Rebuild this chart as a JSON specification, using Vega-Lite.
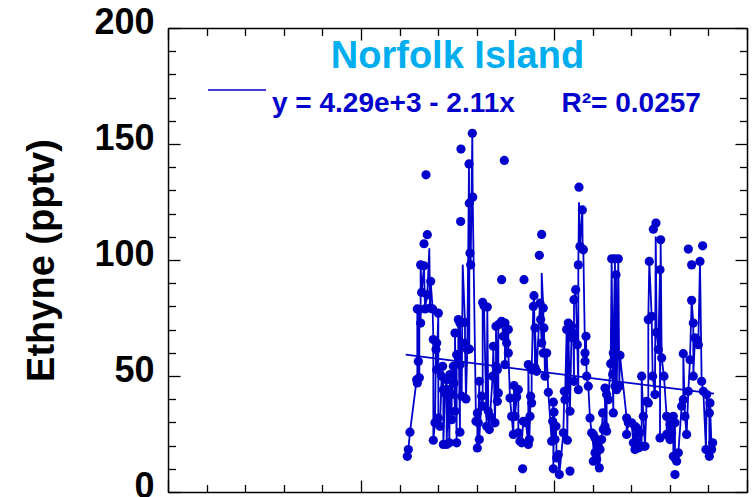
{
  "$schema": "https://vega.github.io/schema/vega-lite/v6.json",
  "width": 579,
  "height": 464,
  "autosize": "none",
  "padding": {"left": 168, "top": 28, "right": 7, "bottom": 5},
  "background": "white",
  "title": {"text": "Norfolk Island", "color": "#00AEEF", "font": "Liberation Sans", "fontSize": 38, "fontWeight": "bold", "anchor": "middle", "frame": "group", "offset": -102, "baseline": "alphabetic"},
  "config": {"view": {"stroke": null}},
  "datasets": {
    "samples": [
      {"year":2006.200,"ethyne":15.4},{"year":2006.226,"ethyne":18.3},{"year":2006.269,"ethyne":25.8},{"year":2006.459,"ethyne":47.0},{"year":2006.511,"ethyne":49.2},{"year":2006.442,"ethyne":48.4},{"year":2006.485,"ethyne":56.3},{"year":2006.545,"ethyne":72.8},{"year":2006.511,"ethyne":78.6},{"year":2006.459,"ethyne":78.9},
      {"year":2006.571,"ethyne":86.0},{"year":2006.545,"ethyne":97.9},{"year":2006.632,"ethyne":97.5},{"year":2006.632,"ethyne":107.0},{"year":2006.718,"ethyne":110.9},{"year":2006.684,"ethyne":136.7},{"year":2006.658,"ethyne":78.9},{"year":2006.787,"ethyne":79.3},{"year":2006.856,"ethyne":78.9},{"year":2007.003,"ethyne":77.1},
      {"year":2006.718,"ethyne":85.0},{"year":2006.805,"ethyne":90.8},{"year":2006.874,"ethyne":65.7},{"year":2006.960,"ethyne":64.2},{"year":2006.943,"ethyne":61.4},{"year":2006.960,"ethyne":52.7},{"year":2006.917,"ethyne":29.8},{"year":2007.003,"ethyne":31.9},{"year":2006.874,"ethyne":22.3},{"year":2007.046,"ethyne":28.3},
      {"year":2007.115,"ethyne":54.2},{"year":2007.089,"ethyne":49.9},{"year":2007.133,"ethyne":44.1},{"year":2007.176,"ethyne":42.7},{"year":2007.219,"ethyne":48.4},{"year":2007.262,"ethyne":44.1},{"year":2007.133,"ethyne":20.5},{"year":2007.219,"ethyne":20.5},{"year":2007.288,"ethyne":21.2},{"year":2007.349,"ethyne":31.2},
      {"year":2007.349,"ethyne":42.0},{"year":2007.305,"ethyne":50.6},{"year":2007.392,"ethyne":54.2},{"year":2007.435,"ethyne":34.8},{"year":2007.478,"ethyne":21.2},{"year":2007.564,"ethyne":25.8},{"year":2007.409,"ethyne":47.0},{"year":2007.478,"ethyne":59.2},{"year":2007.521,"ethyne":55.6},{"year":2007.564,"ethyne":54.9},
      {"year":2007.435,"ethyne":68.5},{"year":2007.521,"ethyne":74.3},{"year":2007.564,"ethyne":72.8},{"year":2007.694,"ethyne":73.1},{"year":2007.608,"ethyne":41.3},{"year":2007.720,"ethyne":40.1},{"year":2007.582,"ethyne":116.6},{"year":2007.590,"ethyne":147.8},{"year":2007.694,"ethyne":64.2},{"year":2007.754,"ethyne":61.4},
      {"year":2007.806,"ethyne":61.6},{"year":2007.823,"ethyne":103.0},{"year":2007.841,"ethyne":97.9},{"year":2007.806,"ethyne":124.5},{"year":2007.798,"ethyne":141.4},{"year":2007.893,"ethyne":127.1},{"year":2007.884,"ethyne":154.6},{"year":2008.065,"ethyne":47.7},{"year":2008.126,"ethyne":41.3},{"year":2008.152,"ethyne":37.0},
      {"year":2008.014,"ethyne":34.1},{"year":2007.979,"ethyne":30.5},{"year":2008.039,"ethyne":29.8},{"year":2008.065,"ethyne":22.6},{"year":2008.014,"ethyne":19.0},{"year":2008.298,"ethyne":34.8},{"year":2008.342,"ethyne":32.6},{"year":2008.255,"ethyne":28.3},{"year":2008.324,"ethyne":26.9},{"year":2008.152,"ethyne":81.7},
      {"year":2008.186,"ethyne":80.3},{"year":2008.272,"ethyne":79.7},{"year":2008.428,"ethyne":62.8},{"year":2008.411,"ethyne":49.9},{"year":2008.497,"ethyne":54.2},{"year":2008.532,"ethyne":52.7},{"year":2008.471,"ethyne":29.8},{"year":2008.558,"ethyne":42.7},{"year":2008.532,"ethyne":39.1},{"year":2008.497,"ethyne":71.4},
      {"year":2008.558,"ethyne":72.1},{"year":2008.644,"ethyne":73.6},{"year":2008.730,"ethyne":72.8},{"year":2008.687,"ethyne":67.1},{"year":2008.773,"ethyne":64.2},{"year":2008.817,"ethyne":70.0},{"year":2008.817,"ethyne":59.9},{"year":2008.730,"ethyne":54.9},{"year":2008.644,"ethyne":91.5},{"year":2008.713,"ethyne":142.9},
      {"year":2008.860,"ethyne":40.5},{"year":2008.963,"ethyne":45.9},{"year":2009.033,"ethyne":41.0},{"year":2008.989,"ethyne":32.6},{"year":2009.076,"ethyne":44.1},{"year":2008.903,"ethyne":32.6},{"year":2008.946,"ethyne":24.8},{"year":2009.076,"ethyne":25.5},{"year":2009.119,"ethyne":21.9},{"year":2009.205,"ethyne":30.5},
      {"year":2009.274,"ethyne":29.8},{"year":2009.162,"ethyne":21.2},{"year":2009.335,"ethyne":20.5},{"year":2009.361,"ethyne":22.6},{"year":2009.378,"ethyne":32.6},{"year":2009.421,"ethyne":38.4},{"year":2009.395,"ethyne":41.3},{"year":2009.223,"ethyne":91.5},{"year":2009.188,"ethyne":10.0},{"year":2009.335,"ethyne":54.9},
      {"year":2009.421,"ethyne":52.7},{"year":2009.508,"ethyne":53.5},{"year":2009.551,"ethyne":52.0},{"year":2009.464,"ethyne":80.0},{"year":2009.482,"ethyne":84.6},{"year":2009.620,"ethyne":102.0},{"year":2009.680,"ethyne":111.0},{"year":2009.637,"ethyne":81.4},{"year":2009.723,"ethyne":79.3},{"year":2009.654,"ethyne":74.3},
      {"year":2009.508,"ethyne":70.7},{"year":2009.740,"ethyne":70.7},{"year":2009.680,"ethyne":64.2},{"year":2009.723,"ethyne":59.9},{"year":2009.810,"ethyne":59.9},{"year":2009.767,"ethyne":49.9},{"year":2009.853,"ethyne":43.0},{"year":2009.983,"ethyne":38.7},{"year":2010.000,"ethyne":34.4},{"year":2009.965,"ethyne":30.5},
      {"year":2010.051,"ethyne":28.3},{"year":2010.026,"ethyne":22.6},{"year":2009.939,"ethyne":21.9},{"year":2010.069,"ethyne":14.7},{"year":2009.983,"ethyne":10.0},{"year":2010.138,"ethyne":7.5},{"year":2010.112,"ethyne":16.1},{"year":2010.242,"ethyne":25.5},{"year":2010.285,"ethyne":39.8},{"year":2010.268,"ethyne":43.4},
      {"year":2010.328,"ethyne":70.0},{"year":2010.371,"ethyne":72.8},{"year":2010.414,"ethyne":34.8},{"year":2010.414,"ethyne":9.0},{"year":2010.345,"ethyne":22.3},{"year":2010.457,"ethyne":71.4},{"year":2010.500,"ethyne":68.5},{"year":2010.483,"ethyne":66.4},{"year":2010.604,"ethyne":63.5},{"year":2010.518,"ethyne":47.7},
      {"year":2010.630,"ethyne":44.1},{"year":2010.518,"ethyne":82.9},{"year":2010.561,"ethyne":87.2},{"year":2010.630,"ethyne":97.9},{"year":2010.673,"ethyne":105.8},{"year":2010.742,"ethyne":104.7},{"year":2010.647,"ethyne":131.4},{"year":2010.734,"ethyne":121.6},{"year":2010.760,"ethyne":104.4},{"year":2010.829,"ethyne":67.1},
      {"year":2010.803,"ethyne":59.9},{"year":2010.803,"ethyne":56.3},{"year":2010.846,"ethyne":49.9},{"year":2010.889,"ethyne":45.6},{"year":2010.932,"ethyne":31.9},{"year":2010.975,"ethyne":25.5},{"year":2011.019,"ethyne":24.8},{"year":2011.062,"ethyne":23.3},{"year":2011.105,"ethyne":21.2},{"year":2011.148,"ethyne":19.7},
      {"year":2011.191,"ethyne":18.3},{"year":2011.062,"ethyne":16.9},{"year":2011.105,"ethyne":14.0},{"year":2011.174,"ethyne":10.4},{"year":2011.019,"ethyne":13.3},{"year":2011.234,"ethyne":22.6},{"year":2011.278,"ethyne":26.9},{"year":2011.321,"ethyne":28.3},{"year":2011.364,"ethyne":26.2},{"year":2011.260,"ethyne":34.1},
      {"year":2011.321,"ethyne":44.8},{"year":2011.364,"ethyne":42.0},{"year":2011.407,"ethyne":39.8},{"year":2011.468,"ethyne":55.3},{"year":2011.519,"ethyne":50.6},{"year":2011.537,"ethyne":34.1},{"year":2011.537,"ethyne":59.9},{"year":2011.640,"ethyne":59.2},{"year":2011.709,"ethyne":58.9},{"year":2011.494,"ethyne":100.5},
      {"year":2011.580,"ethyne":100.5},{"year":2011.666,"ethyne":100.5},{"year":2011.606,"ethyne":93.6},{"year":2011.580,"ethyne":45.6},{"year":2011.623,"ethyne":44.1},{"year":2011.692,"ethyne":45.6},{"year":2011.882,"ethyne":31.9},{"year":2011.925,"ethyne":29.8},{"year":2012.012,"ethyne":29.8},{"year":2012.098,"ethyne":28.3},
      {"year":2012.141,"ethyne":27.6},{"year":2012.228,"ethyne":25.5},{"year":2011.882,"ethyne":24.8},{"year":2012.055,"ethyne":21.2},{"year":2012.098,"ethyne":18.3},{"year":2012.184,"ethyne":19.0},{"year":2012.271,"ethyne":19.7},{"year":2012.357,"ethyne":19.7},{"year":2012.271,"ethyne":49.9},{"year":2012.314,"ethyne":32.6},
      {"year":2012.400,"ethyne":39.1},{"year":2012.443,"ethyne":38.4},{"year":2012.469,"ethyne":99.4},{"year":2012.443,"ethyne":74.3},{"year":2012.530,"ethyne":75.7},{"year":2012.659,"ethyne":68.8},{"year":2012.703,"ethyne":61.4},{"year":2012.789,"ethyne":57.8},{"year":2012.746,"ethyne":95.8},{"year":2012.763,"ethyne":108.7},
      {"year":2012.573,"ethyne":113.3},{"year":2012.642,"ethyne":115.9},{"year":2012.556,"ethyne":49.9},{"year":2012.616,"ethyne":42.0},{"year":2012.746,"ethyne":23.3},{"year":2012.849,"ethyne":49.9},{"year":2012.918,"ethyne":32.6},{"year":2013.005,"ethyne":29.1},{"year":2013.048,"ethyne":25.5},{"year":2013.091,"ethyne":32.6},
      {"year":2013.134,"ethyne":29.8},{"year":2012.918,"ethyne":24.8},{"year":2013.005,"ethyne":22.6},{"year":2013.091,"ethyne":15.4},{"year":2013.134,"ethyne":14.7},{"year":2013.221,"ethyne":16.9},{"year":2013.177,"ethyne":13.3},{"year":2013.134,"ethyne":7.5},{"year":2013.307,"ethyne":37.0},{"year":2013.350,"ethyne":39.8},
      {"year":2013.393,"ethyne":32.6},{"year":2013.436,"ethyne":24.8},{"year":2013.480,"ethyne":43.4},{"year":2013.480,"ethyne":104.7},{"year":2013.566,"ethyne":97.9},{"year":2013.566,"ethyne":82.6},{"year":2013.609,"ethyne":72.8},{"year":2013.652,"ethyne":66.4},{"year":2013.696,"ethyne":65.7},{"year":2013.739,"ethyne":63.5},
      {"year":2013.350,"ethyne":59.6},{"year":2013.523,"ethyne":57.0},{"year":2013.609,"ethyne":49.9},{"year":2013.782,"ethyne":99.4},{"year":2013.851,"ethyne":106.1},{"year":2013.825,"ethyne":47.7},{"year":2013.868,"ethyne":43.4},{"year":2013.955,"ethyne":42.0},{"year":2014.041,"ethyne":38.4},{"year":2014.024,"ethyne":34.1},
      {"year":2013.937,"ethyne":18.3},{"year":2014.024,"ethyne":15.4},{"year":2014.084,"ethyne":18.3},{"year":2014.110,"ethyne":21.2}
    ],
    "series": [
      {"year":2006.200,"ethyne":15.4},{"year":2006.226,"ethyne":18.3},{"year":2006.269,"ethyne":25.8},{"year":2006.459,"ethyne":47.0},{"year":2006.511,"ethyne":49.2},{"year":2006.442,"ethyne":48.4},{"year":2006.485,"ethyne":56.3},{"year":2006.545,"ethyne":72.8},{"year":2006.511,"ethyne":78.6},{"year":2006.459,"ethyne":78.9},
      {"year":2006.571,"ethyne":86.0},{"year":2006.545,"ethyne":97.9},{"year":2006.632,"ethyne":97.5},{"year":2006.770,"ethyne":105.1},{"year":2006.658,"ethyne":78.9},{"year":2006.787,"ethyne":79.3},{"year":2006.856,"ethyne":78.9},{"year":2007.003,"ethyne":77.1},
      {"year":2006.718,"ethyne":85.0},{"year":2006.805,"ethyne":90.8},{"year":2006.874,"ethyne":65.7},{"year":2006.960,"ethyne":64.2},{"year":2006.943,"ethyne":61.4},{"year":2006.960,"ethyne":52.7},{"year":2006.917,"ethyne":29.8},{"year":2007.003,"ethyne":31.9},{"year":2006.874,"ethyne":22.3},{"year":2007.046,"ethyne":28.3},
      {"year":2007.115,"ethyne":54.2},{"year":2007.089,"ethyne":49.9},{"year":2007.133,"ethyne":44.1},{"year":2007.176,"ethyne":42.7},{"year":2007.219,"ethyne":48.4},{"year":2007.262,"ethyne":44.1},{"year":2007.133,"ethyne":20.5},{"year":2007.219,"ethyne":20.5},{"year":2007.288,"ethyne":21.2},{"year":2007.349,"ethyne":31.2},
      {"year":2007.349,"ethyne":42.0},{"year":2007.305,"ethyne":50.6},{"year":2007.392,"ethyne":54.2},{"year":2007.435,"ethyne":34.8},{"year":2007.478,"ethyne":21.2},{"year":2007.564,"ethyne":25.8},{"year":2007.409,"ethyne":47.0},{"year":2007.478,"ethyne":59.2},{"year":2007.521,"ethyne":55.6},{"year":2007.564,"ethyne":54.9},
      {"year":2007.435,"ethyne":68.5},{"year":2007.521,"ethyne":74.3},{"year":2007.564,"ethyne":72.8},{"year":2007.694,"ethyne":73.1},{"year":2007.608,"ethyne":41.3},{"year":2007.635,"ethyne":98.0},{"year":2007.720,"ethyne":40.1},{"year":2007.694,"ethyne":64.2},{"year":2007.754,"ethyne":61.4},
      {"year":2007.806,"ethyne":61.6},{"year":2007.823,"ethyne":103.0},{"year":2007.841,"ethyne":97.9},{"year":2007.806,"ethyne":124.5},{"year":2007.798,"ethyne":141.4},{"year":2007.893,"ethyne":127.1},{"year":2007.884,"ethyne":154.6},{"year":2008.065,"ethyne":47.7},{"year":2008.126,"ethyne":41.3},{"year":2008.152,"ethyne":37.0},
      {"year":2008.014,"ethyne":34.1},{"year":2007.979,"ethyne":30.5},{"year":2008.039,"ethyne":29.8},{"year":2008.065,"ethyne":22.6},{"year":2008.014,"ethyne":19.0},{"year":2008.298,"ethyne":34.8},{"year":2008.342,"ethyne":32.6},{"year":2008.255,"ethyne":28.3},{"year":2008.324,"ethyne":26.9},{"year":2008.152,"ethyne":81.7},
      {"year":2008.186,"ethyne":80.3},{"year":2008.272,"ethyne":79.7},{"year":2008.428,"ethyne":62.8},{"year":2008.411,"ethyne":49.9},{"year":2008.497,"ethyne":54.2},{"year":2008.532,"ethyne":52.7},{"year":2008.471,"ethyne":29.8},{"year":2008.558,"ethyne":42.7},{"year":2008.532,"ethyne":39.1},{"year":2008.497,"ethyne":71.4},
      {"year":2008.558,"ethyne":72.1},{"year":2008.644,"ethyne":73.6},{"year":2008.730,"ethyne":72.8},{"year":2008.687,"ethyne":67.1},{"year":2008.773,"ethyne":64.2},{"year":2008.817,"ethyne":70.0},{"year":2008.817,"ethyne":59.9},{"year":2008.730,"ethyne":54.9},
      {"year":2008.860,"ethyne":40.5},{"year":2008.963,"ethyne":45.9},{"year":2009.033,"ethyne":41.0},{"year":2008.989,"ethyne":32.6},{"year":2009.076,"ethyne":44.1},{"year":2008.903,"ethyne":32.6},{"year":2008.946,"ethyne":24.8},{"year":2009.076,"ethyne":25.5},{"year":2009.119,"ethyne":21.9},{"year":2009.205,"ethyne":30.5},
      {"year":2009.274,"ethyne":29.8},{"year":2009.162,"ethyne":21.2},{"year":2009.335,"ethyne":20.5},{"year":2009.361,"ethyne":22.6},{"year":2009.378,"ethyne":32.6},{"year":2009.421,"ethyne":38.4},{"year":2009.395,"ethyne":41.3},{"year":2009.335,"ethyne":54.9},
      {"year":2009.421,"ethyne":52.7},{"year":2009.508,"ethyne":53.5},{"year":2009.551,"ethyne":52.0},{"year":2009.464,"ethyne":80.0},{"year":2009.482,"ethyne":84.6},{"year":2009.681,"ethyne":94.4},{"year":2009.637,"ethyne":81.4},{"year":2009.723,"ethyne":79.3},{"year":2009.654,"ethyne":74.3},
      {"year":2009.508,"ethyne":70.7},{"year":2009.740,"ethyne":70.7},{"year":2009.680,"ethyne":64.2},{"year":2009.723,"ethyne":59.9},{"year":2009.810,"ethyne":59.9},{"year":2009.767,"ethyne":49.9},{"year":2009.853,"ethyne":43.0},{"year":2009.983,"ethyne":38.7},{"year":2010.000,"ethyne":34.4},{"year":2009.965,"ethyne":30.5},
      {"year":2010.051,"ethyne":28.3},{"year":2010.026,"ethyne":22.6},{"year":2009.939,"ethyne":21.9},{"year":2010.069,"ethyne":14.7},{"year":2009.983,"ethyne":10.0},{"year":2010.138,"ethyne":7.5},{"year":2010.112,"ethyne":16.1},{"year":2010.242,"ethyne":25.5},{"year":2010.285,"ethyne":39.8},{"year":2010.268,"ethyne":43.4},
      {"year":2010.328,"ethyne":70.0},{"year":2010.371,"ethyne":72.8},{"year":2010.414,"ethyne":34.8},{"year":2010.345,"ethyne":22.3},{"year":2010.457,"ethyne":71.4},{"year":2010.500,"ethyne":68.5},{"year":2010.483,"ethyne":66.4},{"year":2010.604,"ethyne":63.5},{"year":2010.518,"ethyne":47.7},
      {"year":2010.630,"ethyne":44.1},{"year":2010.518,"ethyne":82.9},{"year":2010.561,"ethyne":87.2},{"year":2010.630,"ethyne":97.9},{"year":2010.648,"ethyne":124.9},{"year":2010.673,"ethyne":105.8},{"year":2010.742,"ethyne":104.7},{"year":2010.734,"ethyne":121.6},{"year":2010.760,"ethyne":104.4},{"year":2010.829,"ethyne":67.1},
      {"year":2010.803,"ethyne":59.9},{"year":2010.803,"ethyne":56.3},{"year":2010.846,"ethyne":49.9},{"year":2010.889,"ethyne":45.6},{"year":2010.932,"ethyne":31.9},{"year":2010.975,"ethyne":25.5},{"year":2011.019,"ethyne":24.8},{"year":2011.062,"ethyne":23.3},{"year":2011.105,"ethyne":21.2},{"year":2011.148,"ethyne":19.7},
      {"year":2011.191,"ethyne":18.3},{"year":2011.062,"ethyne":16.9},{"year":2011.105,"ethyne":14.0},{"year":2011.174,"ethyne":10.4},{"year":2011.019,"ethyne":13.3},{"year":2011.234,"ethyne":22.6},{"year":2011.278,"ethyne":26.9},{"year":2011.321,"ethyne":28.3},{"year":2011.364,"ethyne":26.2},{"year":2011.260,"ethyne":34.1},
      {"year":2011.321,"ethyne":44.8},{"year":2011.364,"ethyne":42.0},{"year":2011.407,"ethyne":39.8},{"year":2011.468,"ethyne":55.3},{"year":2011.519,"ethyne":50.6},{"year":2011.537,"ethyne":34.1},{"year":2011.537,"ethyne":59.9},{"year":2011.640,"ethyne":59.2},{"year":2011.709,"ethyne":58.9},{"year":2011.494,"ethyne":100.5},
      {"year":2011.580,"ethyne":100.5},{"year":2011.666,"ethyne":100.5},{"year":2011.606,"ethyne":93.6},{"year":2011.580,"ethyne":45.6},{"year":2011.623,"ethyne":44.1},{"year":2011.692,"ethyne":45.6},{"year":2011.882,"ethyne":31.9},{"year":2011.925,"ethyne":29.8},{"year":2012.012,"ethyne":29.8},{"year":2012.098,"ethyne":28.3},
      {"year":2012.141,"ethyne":27.6},{"year":2012.228,"ethyne":25.5},{"year":2011.882,"ethyne":24.8},{"year":2012.055,"ethyne":21.2},{"year":2012.098,"ethyne":18.3},{"year":2012.184,"ethyne":19.0},{"year":2012.271,"ethyne":19.7},{"year":2012.357,"ethyne":19.7},{"year":2012.271,"ethyne":49.9},{"year":2012.314,"ethyne":32.6},
      {"year":2012.400,"ethyne":39.1},{"year":2012.443,"ethyne":38.4},{"year":2012.469,"ethyne":99.4},{"year":2012.443,"ethyne":74.3},{"year":2012.530,"ethyne":75.7},{"year":2012.659,"ethyne":68.8},{"year":2012.703,"ethyne":61.4},{"year":2012.789,"ethyne":57.8},{"year":2012.746,"ethyne":95.8},{"year":2012.763,"ethyne":108.7},
      {"year":2012.635,"ethyne":110.1},{"year":2012.556,"ethyne":49.9},{"year":2012.616,"ethyne":42.0},{"year":2012.746,"ethyne":23.3},{"year":2012.849,"ethyne":49.9},{"year":2012.918,"ethyne":32.6},{"year":2013.005,"ethyne":29.1},{"year":2013.048,"ethyne":25.5},{"year":2013.091,"ethyne":32.6},
      {"year":2013.134,"ethyne":29.8},{"year":2012.918,"ethyne":24.8},{"year":2013.005,"ethyne":22.6},{"year":2013.091,"ethyne":15.4},{"year":2013.134,"ethyne":14.7},{"year":2013.221,"ethyne":16.9},{"year":2013.177,"ethyne":13.3},{"year":2013.307,"ethyne":37.0},{"year":2013.350,"ethyne":39.8},
      {"year":2013.393,"ethyne":32.6},{"year":2013.436,"ethyne":24.8},{"year":2013.480,"ethyne":43.4},{"year":2013.566,"ethyne":82.6},{"year":2013.609,"ethyne":72.8},{"year":2013.652,"ethyne":66.4},{"year":2013.696,"ethyne":65.7},{"year":2013.739,"ethyne":63.5},
      {"year":2013.350,"ethyne":59.6},{"year":2013.523,"ethyne":57.0},{"year":2013.609,"ethyne":49.9},{"year":2013.782,"ethyne":99.4},{"year":2013.825,"ethyne":47.7},{"year":2013.868,"ethyne":43.4},{"year":2013.955,"ethyne":42.0},{"year":2014.041,"ethyne":38.4},{"year":2014.024,"ethyne":34.1},
      {"year":2013.937,"ethyne":18.3},{"year":2014.024,"ethyne":15.4},{"year":2014.084,"ethyne":18.3},{"year":2014.110,"ethyne":21.2}
    ],
    "fit": [
      {"year":2006.158,"ethyne":59.2,"label":"y = 4.29e+3 - 2.11x\u00a0\u00a0\u00a0\u00a0\u00a0\u00a0R²= 0.0257"},
      {"year":2014.145,"ethyne":42.4,"label":"y = 4.29e+3 - 2.11x\u00a0\u00a0\u00a0\u00a0\u00a0\u00a0R²= 0.0257"}
    ]
  },
  "layer": [
    {
      "data": {"name": "samples"},
      "mark": {"type": "circle", "color": "#0000CC", "size": 85, "opacity": 1},
      "encoding": {
        "x": {"field": "year", "type": "quantitative", "scale": {"domain": [2000, 2015], "nice": false, "zero": false},
          "axis": {"orient": "bottom", "values": [2000,2001,2002,2003,2004,2005,2006,2007,2008,2009,2010,2011,2012,2013,2014,2015], "labels": false, "title": null, "grid": false, "domainColor": "black", "domainWidth": 1.5, "tickColor": "black", "tickWidth": 1.3, "tickSize": {"condition": {"test": "datum.value % 5 === 0", "value": -12}, "value": -7.5}}},
        "y": {"field": "ethyne", "type": "quantitative", "scale": {"domain": [0, 200], "nice": false, "zero": true},
          "axis": {"orient": "left", "values": [0,10,20,30,40,50,60,70,80,90,100,110,120,130,140,150,160,170,180,190,200], "labelExpr": "datum.value % 50 === 0 ? datum.label : ''", "labelOverlap": false, "labelBound": false, "labelFlush": false, "labelFont": "Liberation Sans", "labelFontSize": 36, "labelFontWeight": "bold", "labelColor": "black", "labelPadding": 26, "labelOffset": -6, "grid": false, "domainColor": "black", "domainWidth": 1.5, "tickColor": "black", "tickWidth": 1.3, "tickSize": {"condition": {"test": "datum.value % 50 === 0", "value": -12}, "value": -7.5},
            "title": "Ethyne (pptv)", "titleFont": "Liberation Sans", "titleFontSize": 38, "titleFontWeight": "bold", "titleColor": "black", "titleAngle": -90, "titleX": -115, "titleY": 232, "titleAlign": "center", "titleBaseline": "alphabetic"}}
      }
    },
    {
      "data": {"name": "series"},
      "mark": {"type": "line", "color": "#0000CC", "strokeWidth": 1.8},
      "encoding": {
        "x": {"field": "year", "type": "quantitative",
          "axis": {"orient": "top", "values": [2000,2001,2002,2003,2004,2005,2006,2007,2008,2009,2010,2011,2012,2013,2014,2015], "labels": false, "title": null, "grid": false, "domainColor": "black", "domainWidth": 1.5, "tickColor": "black", "tickWidth": 1.3, "tickSize": {"condition": {"test": "datum.value % 5 === 0", "value": -12}, "value": -7.5}}},
        "y": {"field": "ethyne", "type": "quantitative",
          "axis": {"orient": "right", "values": [0,10,20,30,40,50,60,70,80,90,100,110,120,130,140,150,160,170,180,190,200], "labels": false, "title": null, "grid": false, "domainColor": "black", "domainWidth": 1.5, "tickColor": "black", "tickWidth": 1.3, "tickSize": {"condition": {"test": "datum.value % 50 === 0", "value": -12}, "value": -7.5}}}
      }
    },
    {
      "data": {"name": "fit"},
      "mark": {"type": "line", "strokeWidth": 1.6},
      "encoding": {
        "x": {"field": "year", "type": "quantitative", "axis": null},
        "y": {"field": "ethyne", "type": "quantitative", "axis": null},
        "stroke": {"field": "label", "type": "nominal", "scale": {"range": ["#0000CC"]},
          "legend": {"orient": "none", "legendX": 39, "legendY": 32, "title": null, "padding": 0, "symbolType": "stroke", "symbolSize": 3364, "symbolStrokeWidth": 1.5, "symbolStrokeColor": "#0000CC", "labelFont": "Liberation Sans", "labelFontSize": 28, "labelFontWeight": "bold", "labelColor": "#0000CC", "labelLimit": 1000, "labelOffset": 5, "labelBaseline": "top"}}
      }
    }
  ]
}
